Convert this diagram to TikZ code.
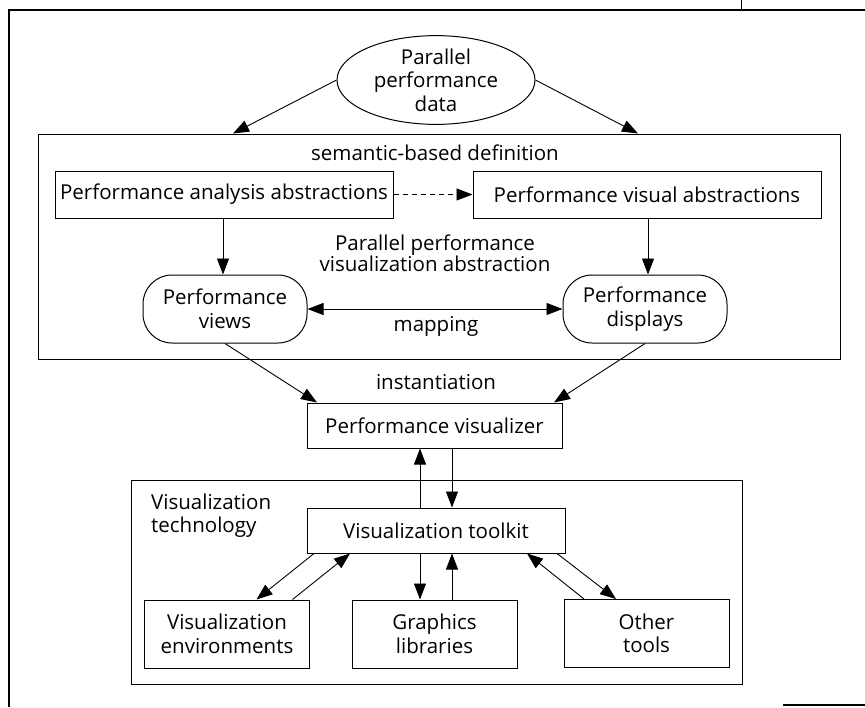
\documentclass[tikz,border=0pt]{standalone}
\usepackage{fontspec}
\setmainfont{Open Sans}
\usetikzlibrary{arrows.meta,shapes.geometric}
\begin{document}
\begin{tikzpicture}[x=1pt,y=-1pt,
  every node/.style={font=\fontsize{20.5}{23.5}\selectfont, inner sep=0pt, align=center},
  box/.style={draw, line width=1pt, rectangle},
  rbox/.style={draw, line width=1pt, rectangle, rounded corners=29pt},
  tip/.style={},
  arr/.style={line width=0.9pt, -{Triangle[length=16pt,width=12pt]}},
  darr/.style={line width=0.9pt, {Triangle[length=16pt,width=12pt]}-{Triangle[length=16pt,width=12pt]}},
  dasharr/.style={line width=0.9pt, dash pattern=on 5pt off 4pt, -{Triangle[length=16pt,width=12pt]}},
  frameline/.style={line width=1.2pt}]
\useasboundingbox (0,0) rectangle (865,707);

% page frame fragments
\draw[frameline] (8,10) -- (865,10);
\draw[frameline] (9,10) -- (9,707);
\draw[line width=0.8pt] (741,0) -- (741,10);
\draw[frameline] (783,705) -- (865,705);

% nodes
\node[draw, ellipse, line width=1pt, minimum width=198pt, minimum height=88pt] (data) at (436,80) {Parallel\\performance\\data};
\node[box, minimum width=802pt, minimum height=225pt] (sem) at (439,246.5) {};
\node (semlbl) at (435,153) {semantic-based definition};
\node[box, minimum width=338pt, minimum height=47pt] (ana) at (224,194.5) {Performance analysis abstractions};
\node[box, minimum width=348pt, minimum height=47pt] (vis) at (647,194.5) {Performance visual abstractions};
\node[font=\fontsize{20.5}{21}\selectfont] (ppva) at (435,253) {Parallel performance\\visualization abstraction};
\node[rbox, minimum width=164pt, minimum height=68pt] (views) at (225,309) {Performance\\views};
\node[rbox, minimum width=164pt, minimum height=68pt] (disp) at (645,309) {Performance\\displays};
\node (map) at (436,326) {mapping};
\node (inst) at (436,382) {instantiation};
\node[box, minimum width=255pt, minimum height=45pt] (pviz) at (434.5,425.5) {Performance visualizer};
\node[box, minimum width=611pt, minimum height=204pt] (tech) at (436.5,582) {};
\node[anchor=west, align=left] (techlbl) at (151,515.5) {Visualization\\technology};
\node[box, minimum width=258pt, minimum height=45pt] (tk) at (436,530.5) {Visualization toolkit};
\node[box, minimum width=165pt, minimum height=68pt] (env) at (227,634) {Visualization\\environments};
\node[box, minimum width=165pt, minimum height=68pt] (gfx) at (434.5,634) {Graphics\\libraries};
\node[box, minimum width=165pt, minimum height=68pt] (oth) at (646.5,633.5) {Other\\tools};

% connectors
\draw[arr] (data.west) -- (sem.north -| 233,0);
\draw[arr] (data.east) -- (sem.north -| 638,0);
\draw[dasharr] (ana.east) -- (vis.west);
\draw[arr] (ana.south -| 223,0) -- (views.north -| 223,0);
\draw[arr] (vis.south -| 648,0) -- (disp.north -| 648,0);
\draw[darr] (views.east) -- (disp.west);
\draw[arr] (views.south) -- (pviz.north -| 317,0);
\draw[arr] (disp.south) -- (pviz.north -| 554,0);
\draw[arr] (tk.north -| 420,0) -- (pviz.south -| 420,0);
\draw[arr] (pviz.south -| 452,0) -- (tk.north -| 452,0);
\draw[arr] (tk.south -| 314,0) -- (env.north -| 256.5,0);
\draw[arr] (env.north -| 292.5,0) -- (tk.south -| 350,0);
\draw[arr] (tk.south -| 420,0) -- (gfx.north -| 420,0);
\draw[arr] (gfx.north -| 452,0) -- (tk.south -| 452,0);
\draw[arr] (oth.north -| 584,0) -- (tk.south -| 527,0);
\draw[arr] (tk.south -| 557,0) -- (oth.north -| 616,0);
\end{tikzpicture}
\end{document}
